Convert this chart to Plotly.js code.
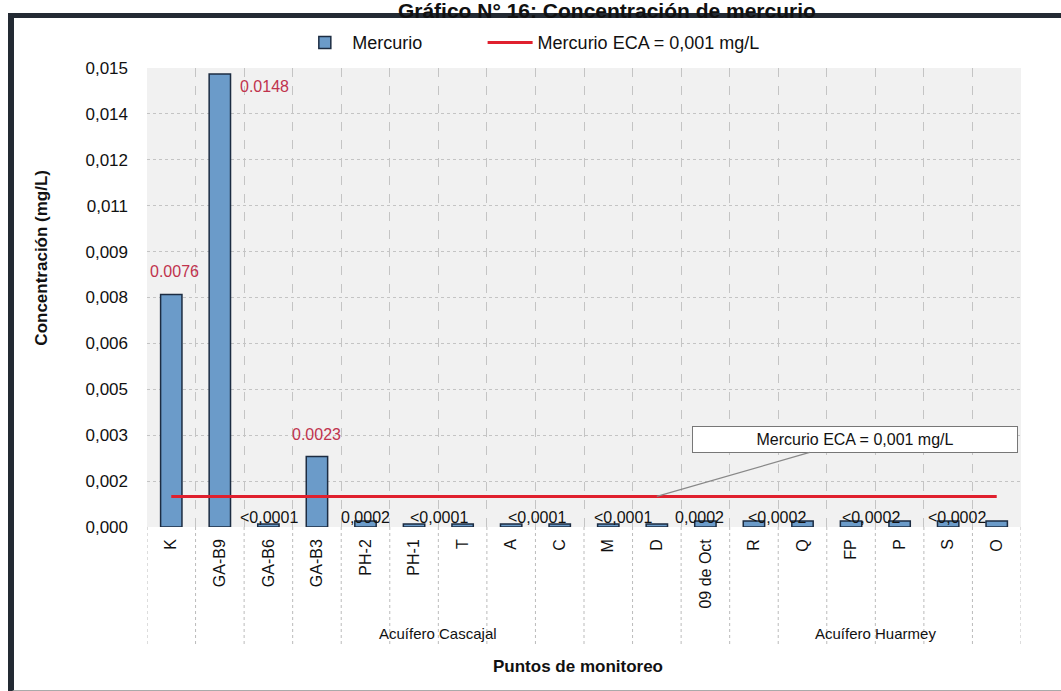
<!DOCTYPE html>
<html>
<head>
<meta charset="utf-8">
<script src="https://cdn.plot.ly/plotly-3.0.1.min.js"></script>
<style>
  html, body { margin: 0; padding: 0; background: #fff; overflow: hidden; }
  #chart { position: absolute; left: 0; top: 0; width: 1061px; height: 691px; z-index: 1; }
  #frame { position: absolute; left: 8px; top: 13px; width: 1080px; height: 672px; z-index: 0;
           border-left: 6px solid #232a33; border-top: 5px solid #232a33; border-bottom: 3px solid #aaa;
           pointer-events: none; }
</style>
</head>
<body>
<div id="frame"></div>
<div id="chart"></div>
<script>
// ---- Data ----
const categories = ['K','GA-B9','GA-B6','GA-B3','PH-2','PH-1','T','A','C','M','D','09 de Oct','R','Q','FP','P','S','O'];
const mercurio   = [0.0076,0.0148,0.0001,0.0023,0.0002,0.0001,0.0001,0.0001,0.0001,0.0001,0.0001,0.0002,0.0002,0.0002,0.0002,0.0002,0.0002,0.0002];
const eca        = categories.map(() => 0.001);
const groups     = [{name: 'Acuífero Cascajal', from: 0, to: 11}, {name: 'Acuífero Huarmey', from: 12, to: 17}];
const yTickVals  = [0,0.0015,0.003,0.0045,0.006,0.0075,0.009,0.0105,0.012,0.0135,0.015];
const yTickText  = ['0,000','0,002','0,003','0,005','0,006','0,008','0,009','0,011','0,012','0,014','0,015'];
const redLabels   = [['K','0.0076'],['GA-B9','0.0148'],['GA-B3','0.0023']];
const blackLabels = [['GA-B6','<0,0001'],['PH-2','0,0002'],['PH-1','<0,0001'],['A','<0,0001'],['M','<0,0001'],
                     ['09 de Oct','0,0002'],['R','<0,0002'],['FP','<0,0002'],['S','<0,0002']];

const font = 'Arial, Liberation Sans, sans-serif';
const narrow = 'Liberation Sans Narrow, Arial Narrow, Arial, sans-serif';
const redCol = '#c0334d';

const traces = [
  { type: 'bar', name: 'Mercurio', x: categories, y: mercurio, width: 0.44, legend: 'legend',
    marker: { color: '#6b9bc9', line: { color: '#1c2c42', width: 1.5 } } },
  { type: 'scatter', mode: 'lines', name: 'Mercurio ECA = 0,001 mg/L', x: categories, y: eca, legend: 'legend2',
    line: { color: '#e0202e', width: 3 } }
];

const annotations = [];
const redShift = { 'K': [3, 12, 'bottom'], 'GA-B9': [45, -12, 'middle'], 'GA-B3': [0, 12, 'bottom'] };
redLabels.forEach(([c, t]) => {
  const i = categories.indexOf(c);
  const s = redShift[c];
  annotations.push({ x: c, y: mercurio[i], text: t, showarrow: false, xshift: s[0], yshift: s[1], yanchor: s[2],
    font: { family: font, size: 16, color: redCol } });
});
const blackShift = { 'GA-B6': 1, 'PH-2': 0, 'PH-1': 25, 'A': 26, 'M': 15, '09 de Oct': -6, 'R': 23, 'FP': 20, 'S': 9 };
blackLabels.forEach(([c, t]) => {
  annotations.push({ x: c, y: 0, text: t, showarrow: false, xshift: blackShift[c], yanchor: 'bottom', yshift: -1,
    font: { family: font, size: 16, color: '#111' } });
});
groups.forEach(g => {
  annotations.push({ x: (g.from + g.to) / 2, xref: 'x', y: -0.255, yref: 'paper', text: g.name, showarrow: false,
    font: { family: narrow, size: 15, color: '#111' } });
});
annotations.push({ x: 'D', y: 0.001, text: 'Mercurio ECA = 0,001 mg/L', showarrow: true, arrowhead: 0,
  arrowcolor: '#888', arrowwidth: 1.2, ax: 198, ay: -57, bgcolor: '#fff', bordercolor: '#777', borderwidth: 1,
  borderpad: 4, width: 316, font: { family: font, size: 16, color: '#111' } });
annotations.push({ x: 0.493, xref: 'paper', y: -0.33, yref: 'paper', text: '<b>Puntos de monitoreo</b>', showarrow: false,
  font: { family: font, size: 17, color: '#111' } });
annotations.push({ x: -0.12, xref: 'paper', xshift: -13, y: 0.586, yref: 'paper', text: '<b>Concentración (mg/L)</b>', textangle: -90,
  showarrow: false, font: { family: font, size: 17, color: '#111' } });

const shapes = [];
for (let i = 0; i <= categories.length; i++) {
  shapes.push({ type: 'line', xref: 'x', yref: 'paper', x0: i - 0.5, x1: i - 0.5, y0: 0, y1: -0.255,
    line: { color: '#bbb', width: 1, dash: 'dot' } });
}

const legendBase = { orientation: 'h', xanchor: 'left', y: 1.055, yanchor: 'middle', itemwidth: 45,
  font: { family: font, size: 18, color: '#111' }, bgcolor: 'rgba(0,0,0,0)' };

const layout = {
  width: 1061, height: 691,
  margin: { l: 147, r: 40, t: 68, b: 164 },
  paper_bgcolor: 'rgba(0,0,0,0)', plot_bgcolor: '#f1f1f1',
  title: { text: '<b>Gráfico N° 16: Concentración de mercurio</b>', x: 0.572, xref: 'container', y: 0.985, yref: 'container',
    yanchor: 'middle', font: { family: font, size: 21, color: '#111' } },
  showlegend: true,
  legend: Object.assign({}, legendBase, { x: 0.172 }),
  legend2: Object.assign({}, legendBase, { x: 0.384 }),
  xaxis: { type: 'category', range: [-0.5, categories.length - 0.5], tickangle: -90, tickson: 'boundaries',
    ticks: '', showgrid: true, gridcolor: '#c4c4c4', griddash: 'dash', gridwidth: 1, ticklabelstandoff: 8,
    tickfont: { family: font, size: 16, color: '#111' }, showline: false, zeroline: false },
  yaxis: { range: [0, 0.015], tickvals: yTickVals, ticktext: yTickText, showgrid: true, gridcolor: '#c4c4c4',
    griddash: 'dot', gridwidth: 1, zeroline: false, showline: false, ticks: '', ticklabelstandoff: 18,
    tickfont: { family: font, size: 17, color: '#111' } },
  annotations: annotations,
  shapes: shapes
};

Plotly.newPlot('chart', traces, layout, { displayModeBar: false, staticPlot: true });
</script>
</body>
</html>
